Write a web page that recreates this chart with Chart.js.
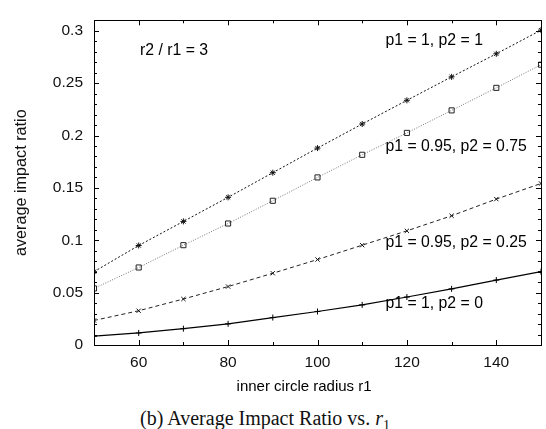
<!DOCTYPE html>
<html><head><meta charset="utf-8">
<script src="https://cdn.jsdelivr.net/npm/chart.js@4/dist/chart.umd.min.js"></script>
<style>
html,body{margin:0;padding:0;background:#fff;}
#wrap{position:absolute;left:0;top:0;width:546px;height:395px;}
#cap{position:absolute;left:-8px;top:406px;width:546px;line-height:24px;text-align:center;font-family:"Liberation Serif","DejaVu Serif",serif;font-size:20px;color:#111;}
</style></head>
<body>
<div id="wrap"><canvas id="c" width="546" height="395"></canvas></div>
<div id="cap">(b) Average Impact Ratio vs. <i>r</i><sub style="font-size:14px;line-height:0">1</sub></div>
<script>
const radii = [50, 60, 70, 80, 90, 100, 110, 120, 130, 140, 150];
const p1_1_p2_1 = [0.070, 0.095, 0.118, 0.141, 0.1645, 0.188, 0.211, 0.2336, 0.256, 0.278, 0.3006];
const p1_095_p2_075 = [0.054, 0.074, 0.0953, 0.116, 0.1377, 0.160, 0.1816, 0.2025, 0.224, 0.2455, 0.2676];
const p1_095_p2_025 = [0.0234, 0.0327, 0.0439, 0.0558, 0.0685, 0.0816, 0.0953, 0.109, 0.1234, 0.1393, 0.1542];
const p1_1_p2_0 = [0.0084, 0.0115, 0.0156, 0.0202, 0.0262, 0.032, 0.0383, 0.0458, 0.0536, 0.062, 0.070];
const xTickLabels = [60, 80, 100, 120, 140];
const yTickLabels = [0, 0.05, 0.1, 0.15, 0.2, 0.25, 0.3];
const seriesNames = ["p1 = 1, p2 = 1", "p1 = 0.95, p2 = 0.75", "p1 = 0.95, p2 = 0.25", "p1 = 1, p2 = 0"];
const xTitle = "inner circle radius r1";
const yTitle = "average impact ratio";

const pts = arr => radii.map((r, i) => ({x: r, y: arr[i]}));
const FONT = "'Liberation Sans', Arial, sans-serif";

const framePlugin = {
  id: 'frame',
  afterDraw(chart) {
    const {ctx, chartArea: a, scales: {x, y}} = chart;
    ctx.save();
    ctx.strokeStyle = '#000';
    ctx.lineWidth = 1;
    ctx.beginPath();
    for (let v = 50; v <= 150; v += 10) {
      const px = Math.round(x.getPixelForValue(v)) + 0.5;
      const len = (v % 20 === 0) ? 5 : 3;
      ctx.moveTo(px, a.bottom); ctx.lineTo(px, a.bottom - len);
      ctx.moveTo(px, a.top); ctx.lineTo(px, a.top + len);
    }
    for (let k = 0; k <= 31; k++) {
      const v = k / 100;
      const py = Math.round(y.getPixelForValue(v)) + 0.5;
      const len = (k % 5 === 0) ? 5 : 3;
      ctx.moveTo(a.left, py); ctx.lineTo(a.left + len, py);
      ctx.moveTo(a.right, py); ctx.lineTo(a.right - len, py);
    }
    ctx.stroke();
    ctx.strokeRect(Math.round(a.left) + 0.5, Math.round(a.top) + 0.5, Math.round(a.right - a.left), Math.round(a.bottom - a.top));
    ctx.fillStyle = '#000';
    ctx.textBaseline = 'middle';
    ctx.textAlign = 'center';
    ctx.font = "15px " + FONT;
    ctx.fillText(xTitle, x.getPixelForValue(97), a.bottom + 42);
    ctx.font = "15.8px " + FONT;
    ctx.textAlign = 'left';
    ctx.fillText("r2 / r1 = 3", x.getPixelForValue(60.3), y.getPixelForValue(0.281));
    const lx = x.getPixelForValue(115.2);
    const ly = [0.2907, 0.1897, 0.0981, 0.0393];
    seriesNames.forEach((n, i) => {
      ctx.fillText(n, lx, y.getPixelForValue(ly[i]));
    });
    ctx.restore();
  }
};

new Chart(document.getElementById('c'), {
  type: 'line',
  data: {
    datasets: [
      {label: seriesNames[0], data: pts(p1_1_p2_1), borderColor: '#111', borderWidth: 1, borderDash: [2, 2],
       pointStyle: 'star', pointRadius: 3, pointBorderColor: '#111', pointBorderWidth: 1, backgroundColor: 'transparent'},
      {label: seriesNames[1], data: pts(p1_095_p2_075), borderColor: '#777', borderWidth: 1, borderDash: [1, 1.5],
       pointStyle: 'rect', pointRadius: 3.6, pointBorderColor: '#222', pointBorderWidth: 1, pointBackgroundColor: 'transparent', backgroundColor: 'transparent'},
      {label: seriesNames[2], data: pts(p1_095_p2_025), borderColor: '#222', borderWidth: 1, borderDash: [4, 3],
       pointStyle: 'crossRot', pointRadius: 3, pointBorderColor: '#111', pointBorderWidth: 1, backgroundColor: 'transparent'},
      {label: seriesNames[3], data: pts(p1_1_p2_0), borderColor: '#000', borderWidth: 1.2,
       pointStyle: 'cross', pointRadius: 3, pointBorderColor: '#000', pointBorderWidth: 1, backgroundColor: 'transparent'}
    ]
  },
  options: {
    responsive: false,
    animation: false,
    layout: {padding: {left: 0, right: 5, top: 13, bottom: 0}},
    plugins: {legend: {display: false}, tooltip: {enabled: false}},
    elements: {line: {tension: 0}},
    scales: {
      x: {
        type: 'linear', min: 50, max: 150,
        grid: {display: false, drawTicks: false},
        border: {display: false},
        afterBuildTicks: s => { s.ticks = xTickLabels.map(v => ({value: v})); },
        afterFit: s => { s.height = 50; },
        ticks: {padding: 8, color: '#111', font: {family: FONT, size: 15.5}, callback: v => String(v)},
        title: {display: false}
      },
      y: {
        type: 'linear', min: 0, max: 0.31,
        grid: {display: false, drawTicks: false},
        border: {display: false},
        afterBuildTicks: s => { s.ticks = yTickLabels.map(v => ({value: v})); },
        afterFit: s => { s.width = 94; },
        ticks: {padding: 11, color: '#111', font: {family: FONT, size: 15.5}, callback: v => String(+v.toFixed(2))},
        title: {display: true, text: yTitle, color: '#111', font: {family: FONT, size: 16.2}, padding: {top: 12, bottom: 0}}
      }
    }
  },
  plugins: [framePlugin]
});
</script>
</body></html>
